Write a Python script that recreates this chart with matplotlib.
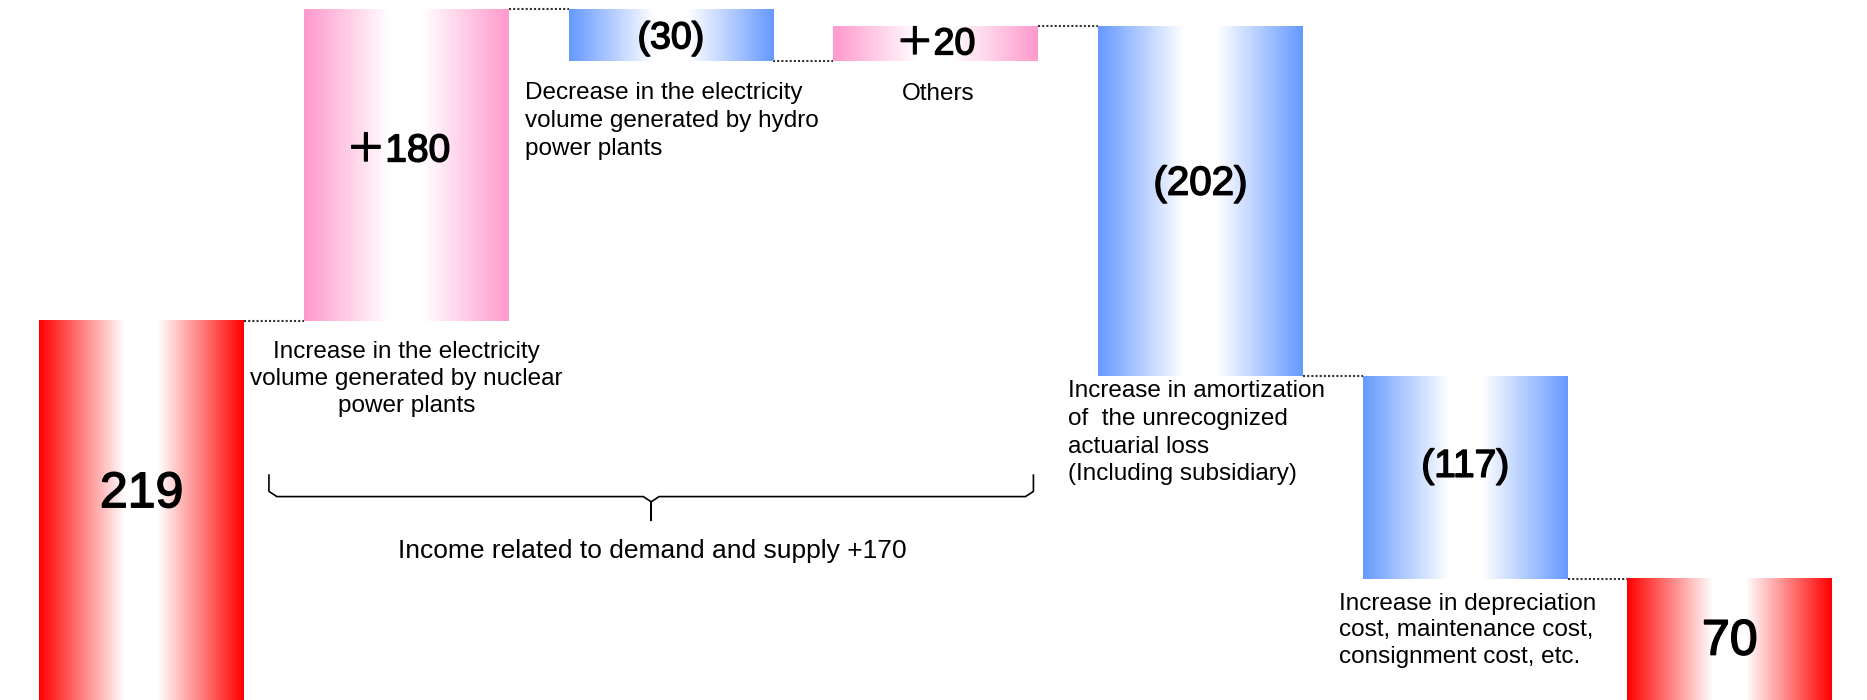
import matplotlib.pyplot as plt
import matplotlib.patheffects as pe
import numpy as np
from matplotlib.colors import LinearSegmentedColormap

# waterfall steps (hundred million yen)
steps = ["Previous", "Nuclear", "Hydro", "Others", "Actuarial", "Depreciation", "Current"]
values = [219, 180, -30, 20, -202, -117, 70]
kinds = ["total", "up", "down", "up", "down", "down", "total"]
value_labels = ["219", "\uff0b180", "(30)", "\uff0b20", "(202)", "(117)", "70"]

desc_nuclear = "Increase in the electricity\nvolume generated by nuclear\npower plants"
desc_hydro = "Decrease in the electricity\nvolume generated by hydro\npower plants"
desc_others = "Others"
desc_actuarial = "Increase in amortization\nof  the unrecognized\nactuarial loss\n(Including subsidiary)"
desc_depr = "Increase in depreciation\ncost, maintenance cost,\nconsignment cost, etc."
brace_label = "Income related to demand and supply +170"

colors = {"total": "#ff0000", "up": "#ff99cc", "down": "#6699ff"}

plt.rcParams['font.family'] = ['Liberation Sans', 'Noto Sans CJK JP', 'DejaVu Sans']

fig = plt.figure(figsize=(18.67, 7), dpi=100)
ax = fig.add_axes([0, 0, 1, 1])
ax.set_xlim(-0.535, 6.518)
ax.set_ylim(0, 404)
ax.axis('off')

width = 0.774

# bottoms and tops of each bar
bottoms, tops = [], []
level = 0
for v, k in zip(values, kinds):
    if k == "total":
        bottoms.append(0)
        tops.append(v)
        level = v
    else:
        lo, hi = sorted([level, level + v])
        bottoms.append(lo)
        tops.append(hi)
        level = level + v

grad = np.linspace(0, 1, 256).reshape(1, -1)
for i, k in enumerate(kinds):
    cmap = LinearSegmentedColormap.from_list(
        k, [(0, colors[k]), (0.42, "white"), (0.58, "white"), (1, colors[k])])
    ax.imshow(grad, cmap=cmap, aspect='auto', interpolation='bilinear',
              extent=[i - width / 2, i + width / 2, bottoms[i], tops[i]], zorder=2)

# dotted connectors between neighbouring bars
level = 0
for i, (v, k) in enumerate(zip(values, kinds)):
    level = v if k == "total" else level + v
    if i < len(values) - 1:
        ax.plot([i + width / 2, i + 1 - width / 2], [level, level],
                ls=(0, (1, 1)), color="#333333", lw=1.5, zorder=1)

# value labels inside the bars, slightly thickened
label_y = [118.8, 316.6, 381.9, 378.4, 298, 134.6, 33.7]
label_size = [36, 28, 27, 27, 29, 28, 36]
for i, txt in enumerate(value_labels):
    ax.text(i - 0.03 if i == 1 else i, label_y[i], txt, ha='center', va='center',
            fontsize=label_size[i], color='black', zorder=3,
            path_effects=[pe.withStroke(linewidth=1.1, foreground='black')])

fs = 17.5
ax.text(1, 207, desc_nuclear, ha='center', va='top', fontsize=fs, linespacing=1.27)
ax.text(1.448, 356.5, desc_hydro, ha='left', va='top', fontsize=fs, linespacing=1.35)
ax.text(3.01, 356, desc_others, ha='center', va='top', fontsize=fs)
ax.text(3.50, 184.5, desc_actuarial, ha='left', va='top', fontsize=fs, linespacing=1.33)
ax.text(4.525, 62, desc_depr, ha='left', va='top', fontsize=fs, linespacing=1.27)

# curly brace under the demand/supply items
x0, x1 = 0.481, 3.369
xm = (x0 + x1) / 2
ytop, ymid, ytip = 129.8, 117.4, 103.7
r = 0.03
bx = [x0, x0, x0 + r, xm - r, xm, xm, xm, xm + r, x1 - r, x1, x1]
by = [ytop, ymid + 3, ymid, ymid, ymid - 3, ytip, ymid - 3, ymid, ymid, ymid + 3, ytop]
ax.plot(bx, by, color='black', lw=1.2)
ax.text(1.93, 86, brace_label, ha='center', va='center', fontsize=19)

fig.savefig("out.png", dpi=100)
